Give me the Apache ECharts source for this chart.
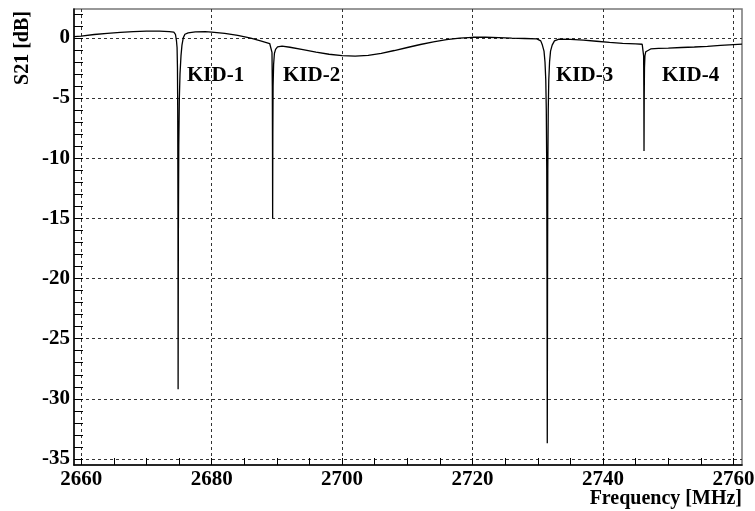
<!DOCTYPE html>
<html>
<head>
<meta charset="utf-8">
<script src="https://cdn.jsdelivr.net/npm/echarts@6/dist/echarts.min.js"></script>
<style>
  html, body { margin: 0; padding: 0; background: #fff; }
  #chart { width: 755px; height: 511px; }
</style>
</head>
<body>
<div id="chart"></div>
<script>
// Transmission sweep of a four-resonator KID array: frequency (MHz) and |S21| (dB)
const freqMHz = [
  2658.9, 2660, 2662, 2664, 2666, 2668, 2670, 2672, 2673.5, 2674.2,
  2674.45, 2674.6, 2674.7, 2674.76, 2674.8, 2674.84, 2674.86, 2674.9, 2674.96, 2675.05,
  2675.15, 2675.3, 2675.45, 2675.65, 2675.9, 2676.4, 2677.5, 2679, 2680, 2682,
  2684, 2686, 2687.5, 2688.9, 2689.15, 2689.25, 2689.3, 2689.33, 2689.35, 2689.38,
  2689.42, 2689.5, 2689.62, 2689.8, 2690.1, 2690.8, 2692, 2694, 2696, 2698,
  2700, 2702, 2704, 2706, 2708, 2710, 2712, 2714, 2716, 2718,
  2720, 2722, 2724, 2726, 2728, 2729.85, 2730.45, 2730.7, 2730.95, 2731.1,
  2731.22, 2731.3, 2731.37, 2731.41, 2731.45, 2731.49, 2731.53, 2731.6, 2731.68, 2731.8,
  2731.95, 2732.2, 2732.55, 2733.25, 2735, 2737, 2739, 2741, 2743, 2745,
  2746.0, 2746.15, 2746.22, 2746.25, 2746.28, 2746.31, 2746.35, 2746.42, 2746.55, 2746.8,
  2747.3, 2748.5, 2750, 2752, 2754, 2756, 2758, 2760, 2761.3
];
const s21dB = [
  0.10, 0.15, 0.28, 0.38, 0.46, 0.52, 0.56, 0.56, 0.52, 0.48,
  0.30, -0.20, -0.80, -2.5, -6.0, -15.0, -29.2, -16.0, -9.0, -5.0,
  -3.0, -1.5, -0.6, 0.0, 0.30, 0.42, 0.50, 0.52, 0.48, 0.38,
  0.20, -0.02, -0.25, -0.47, -0.55, -1.2, -4.0, -9.0, -15.0, -8.0,
  -4.0, -2.2, -1.3, -0.95, -0.75, -0.68, -0.78, -0.98, -1.18, -1.36,
  -1.48, -1.52, -1.45, -1.28, -1.05, -0.80, -0.55, -0.33, -0.15, -0.02,
  0.05, 0.05, 0.02, -0.02, -0.05, -0.08, -0.25, -0.60, -1.1, -2.0,
  -3.5, -6.0, -11.0, -20.0, -33.7, -20.0, -11.0, -6.0, -3.5, -2.0,
  -1.1, -0.60, -0.25, -0.10, -0.12, -0.18, -0.28, -0.38, -0.46, -0.50,
  -0.53, -0.60, -1.5, -4.0, -9.4, -5.0, -2.5, -1.5, -1.15, -1.0,
  -0.92, -0.88, -0.85, -0.80, -0.76, -0.70, -0.63, -0.56, -0.52
];

// Axis ticks
const xMajorTicks = [2660, 2680, 2700, 2720, 2740, 2760];
const xMinorTicks = [2660, 2665, 2670, 2675, 2680, 2685, 2690, 2695, 2700, 2705, 2710,
                     2715, 2720, 2725, 2730, 2735, 2740, 2745, 2750, 2755, 2760];
const yMajorTicks = [0, -5, -10, -15, -20, -25, -30, -35];
const yMinorTicks = [2, 1, 0, -1, -2, -3, -4, -5, -6, -7, -8, -9, -10, -11, -12, -13, -14,
                     -15, -16, -17, -18, -19, -20, -21, -22, -23, -24, -25, -26, -27, -28,
                     -29, -30, -31, -32, -33, -34, -35];

// Resonator annotations
const kidNames = ['KID-1', 'KID-2', 'KID-3', 'KID-4'];
const kidLabelLeft = [187, 283, 556, 662];

const FONT = "'Liberation Serif', 'Times New Roman', serif";
const xRange = { min: 2658.9, max: 2761.3 };
const yRange = { min: -35.5, max: 2.4 };

const chart = echarts.init(document.getElementById('chart'), null, { renderer: 'canvas' });

const majorLabel = {
  fontFamily: FONT, fontWeight: 'bold', fontSize: 21, color: '#000',
  formatter: (v) => String(v)
};
const gridLine = { show: true, lineStyle: { color: '#333', type: [3, 3], width: 1 } };

const option = {
  animation: false,
  backgroundColor: '#fff',
  grid: {
    left: 74, top: 9, right: 13, bottom: 46,
    show: true, borderColor: '#777', borderWidth: 1.5,
    containLabel: false, outerBoundsMode: 'none'
  },
  xAxis: [
    {
      type: 'value', position: 'bottom', ...xRange,
      axisLine: { onZero: false, lineStyle: { color: '#000', width: 1.5 } },
      axisTick: { show: true, inside: true, length: 7, customValues: xMajorTicks,
                  lineStyle: { color: '#000', width: 1 } },
      axisLabel: { ...majorLabel, customValues: xMajorTicks, margin: 4 },
      splitLine: gridLine
    },
    {
      type: 'value', position: 'bottom', ...xRange,
      axisLine: { show: false, onZero: false },
      axisTick: { show: true, inside: true, length: 7, customValues: xMinorTicks,
                  lineStyle: { color: '#000', width: 1 } },
      axisLabel: { show: false },
      splitLine: { show: false }
    }
  ],
  yAxis: [
    {
      type: 'value', position: 'left', ...yRange,
      axisLine: { show: true, onZero: false, lineStyle: { color: '#000', width: 1.5 } },
      axisTick: { show: true, inside: true, length: 9, customValues: yMajorTicks,
                  lineStyle: { color: '#000', width: 1 } },
      axisLabel: { ...majorLabel, customValues: yMajorTicks, margin: 4 },
      splitLine: gridLine
    },
    {
      type: 'value', position: 'left', ...yRange,
      axisLine: { show: false, onZero: false },
      axisTick: { show: true, inside: true, length: 9, customValues: yMinorTicks,
                  lineStyle: { color: '#000', width: 1 } },
      axisLabel: { show: false },
      splitLine: { show: false }
    }
  ],
  series: [
    {
      type: 'line',
      xAxisIndex: 0, yAxisIndex: 0,
      data: freqMHz.map((f, i) => [f, s21dB[i]]),
      showSymbol: false,
      symbol: 'none',
      smooth: false,
      sampling: null,
      lineStyle: { color: '#000', width: 1.3 },
      z: 5
    }
  ],
  graphic: [
    {
      type: 'text', x: 23, y: 48, rotation: Math.PI / 2,
      style: { text: 'S21 [dB]', font: `bold 20px ${FONT}`, fill: '#000',
               textAlign: 'center', textVerticalAlign: 'middle' }
    },
    {
      type: 'text', x: 742, y: 499,
      style: { text: 'Frequency [MHz]', font: `bold 20px ${FONT}`, fill: '#000',
               textAlign: 'right', textVerticalAlign: 'middle' }
    },
    ...kidNames.map((name, i) => ({
      type: 'text', x: kidLabelLeft[i], y: 76,
      style: { text: name, font: `bold 21px ${FONT}`, fill: '#000',
               textAlign: 'left', textVerticalAlign: 'middle' },
      z: 10
    }))
  ]
};

chart.setOption(option);
</script>
</body>
</html>
